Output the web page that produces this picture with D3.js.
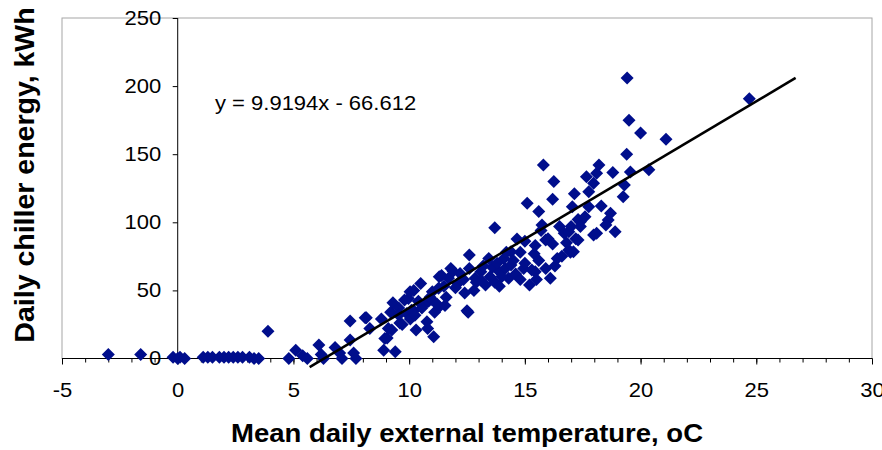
<!DOCTYPE html>
<html>
<head>
<meta charset="utf-8">
<script src="https://cdn.jsdelivr.net/npm/d3@7"></script>
<style>
    body { margin: 0; background: #fff; }
    text { font-family: Arial, "Liberation Sans", sans-serif; }
</style>
</head>
<body>
<div id="chart"></div>
<script>
// Mean daily external temperature (oC) and daily chiller energy (kWh)
const tempC = [
    -3.0, -1.6, -0.2, 0.0, 0.1, 0.3, 1.1, 1.3, 1.5, 1.8, 2.0, 2.2, 2.4, 2.6, 2.8, 3.1, 3.3, 3.5,
    3.9, 4.8, 5.1, 5.4, 5.6, 6.1, 6.2, 6.3, 6.8, 7.0, 7.1, 7.45, 7.45, 7.6, 7.7, 8.1, 8.3,
    8.8, 8.9, 8.95, 9.05, 9.4, 9.2, 9.25, 9.3, 9.55, 9.55, 9.6, 9.7, 9.8, 9.9, 9.97, 10.04,
    10.05, 10.1, 10.2, 10.2, 10.25, 10.3, 10.5, 10.55, 10.6, 10.77, 10.8, 10.84, 11.0, 11.0,
    11.06, 11.1, 11.27, 11.3, 11.3, 11.4, 11.55, 11.6, 11.7, 11.8, 11.9, 12.1, 12.2, 12.35,
    12.5, 12.55, 12.6, 12.6, 12.85, 13.1, 13.1, 13.3, 13.44, 13.6, 13.7, 13.7, 13.9, 13.9,
    14.1, 14.15, 14.2, 14.3, 14.4, 14.4, 14.66, 14.8, 14.95, 15.0, 15.1, 15.2, 15.4, 15.45,
    15.45, 15.6, 15.7, 15.74, 15.8, 15.9, 15.9, 16.0, 16.1, 16.2, 16.2, 16.25, 16.4, 16.5,
    16.6, 16.7, 16.9, 16.9, 16.97, 17.0, 17.05, 17.1, 17.14, 17.2, 17.3, 17.3, 17.4, 17.4,
    17.66, 17.76, 17.76, 17.97, 17.97, 18.1, 18.1, 18.2, 18.6, 18.7, 18.8, 18.9, 19.25, 19.3,
    19.4, 19.42, 19.5, 19.56, 20.0, 20.36, 21.1, 24.7,
    12.0, 12.8, 13.5, 14.0, 14.6, 15.0, 15.3, 15.6, 14.5, 13.8, 13.2, 12.4, 11.5, 10.9, 10.4,
    11.2, 12.9, 14.8, 15.5, 16.3, 16.8, 17.6, 18.3, 18.5, 9.1, 8.15
];
const energyKWh = [
    3, 3, 1, 0, 1, 0, 1, 1, 1, 1, 1, 1, 1, 1, 1, 1, 0, 0,
    20, 0, 6, 2, 0, 10, 3, 0, 8, 4, 0, 27.6, 13.5, 4, 0, 30, 22,
    29, 6, 14.7, 15, 5, 34, 21, 41, 37, 32, 26, 25, 43, 33, 44, 49,
    29, 35.5, 50, 35, 31.8, 21, 55, 37, 39, 27, 22, 42, 43, 49,
    16, 34, 51.5, 60, 38, 61, 39, 45, 59, 66, 64, 55, 62.5, 58,
    35, 34, 66, 76, 59, 63.7, 57.6, 54, 73.5, 67, 56, 96, 53, 63.7,
    73.5, 66, 78, 59, 68.6, 78.4, 87.7, 78, 66, 86, 114, 54, 77, 83,
    63.7, 108, 94, 98, 142, 87, 66, 88, 59, 84, 117, 130, 73.5, 97,
    75, 92, 79.6, 93, 78, 97, 111.5, 78.4, 121, 88, 102, 87, 100.4, 97,
    133.5, 122.5, 111.5, 128.7, 90.7, 136, 92, 142, 101.7, 106.6, 136.5, 93, 118.8, 127.4,
    150, 206, 175, 137, 165.5, 138.5, 161, 190.8,
    52, 50, 60, 60, 62, 70, 65, 72, 72, 70, 68, 48, 53, 45, 42,
    40, 56, 58, 58, 68, 85, 104, 112, 98, 22, 30
];

// Trend line as drawn (end points) and its label
const trendX = [5.7, 26.7];
const trendY = [-6.3, 206];
const equationLabel = "y = 9.9194x - 66.612";

const xTicks = [-5, 0, 5, 10, 15, 20, 25, 30];
const xMinorTicks = d3.range(-5, 31, 1);
const yTicks = [0, 50, 100, 150, 200, 250];

const xTitle = "Mean daily external temperature, oC";
const yTitle = "Daily chiller energy, kWh";

const width = 882, height = 450;
const plot = {left: 62, right: 872, top: 18, bottom: 358.5};
// the source picture is a little wider than tall, text included
const stretch = "scale(1.1,1)";

const svg = d3.select("#chart").append("svg")
    .attr("width", width)
    .attr("height", height);

const x = d3.scaleLinear().domain([-5, 30]).range([plot.left, plot.right]);
const y = d3.scaleLinear().domain([0, 250]).range([plot.bottom, plot.top]);

// plot area border
svg.append("rect")
    .attr("x", plot.left)
    .attr("y", plot.top)
    .attr("width", plot.right - plot.left)
    .attr("height", plot.bottom - plot.top)
    .attr("fill", "none")
    .attr("stroke", "#a6a6a6")
    .attr("stroke-width", 1);

// x axis: minor ticks, then major ticks with labels
const xAxisG = svg.append("g").attr("transform", `translate(0,${y(0)})`);
xAxisG.call(d3.axisBottom(x).tickValues(xMinorTicks).tickSize(4).tickFormat(""));
xAxisG.append("g").call(d3.axisBottom(x).tickValues(xTicks).tickSize(6).tickPadding(18).tickFormat(d => String(d)));
xAxisG.selectAll(".domain").attr("stroke", "#000").attr("d", `M${plot.left},0H${plot.right}`);
xAxisG.selectAll("line").attr("stroke", "#000");
xAxisG.selectAll("text")
    .attr("fill", "#000")
    .attr("transform", stretch)
    .style("font-size", "20px")
    .attr("font-family", "Arial, 'Liberation Sans', sans-serif");

// y axis sits at x = 0
const yAxisG = svg.append("g").attr("transform", `translate(${x(0)},0)`);
yAxisG.call(d3.axisLeft(y).tickValues(yTicks).tickSize(5).tickPadding(10));
yAxisG.select(".domain").attr("stroke", "#000").attr("d", `M0,${plot.top}V${plot.bottom}`);
yAxisG.selectAll("line").attr("stroke", "#000");
yAxisG.selectAll("text")
    .attr("fill", "#000")
    .attr("transform", stretch)
    .style("font-size", "20px")
    .attr("font-family", "Arial, 'Liberation Sans', sans-serif");

// points
const diamond = "M0,-6.5L6.5,0L0,6.5L-6.5,0Z";
svg.append("g").selectAll("path")
    .data(d3.zip(tempC, energyKWh))
    .join("path")
    .attr("d", diamond)
    .attr("transform", d => `translate(${x(d[0])},${y(d[1])})`)
    .attr("fill", "#000e8c");

// trend line
svg.append("line")
    .attr("x1", x(trendX[0])).attr("y1", y(trendY[0]))
    .attr("x2", x(trendX[1])).attr("y2", y(trendY[1]))
    .attr("stroke", "#000")
    .attr("stroke-width", 2.5);

svg.append("text")
    .attr("transform", `translate(215,110) ${stretch}`)
    .style("font-size", "20px")
    .text(equationLabel);

// axis titles
svg.append("text")
    .attr("transform", `translate(467,442) ${stretch}`)
    .attr("text-anchor", "middle")
    .style("font-size", "25px")
    .style("font-weight", "bold")
    .text(xTitle);

svg.append("text")
    .attr("transform", "translate(34,175) rotate(-90)")
    .attr("text-anchor", "middle")
    .style("font-size", "28.5px")
    .style("font-weight", "bold")
    .text(yTitle);
</script>
</body>
</html>
